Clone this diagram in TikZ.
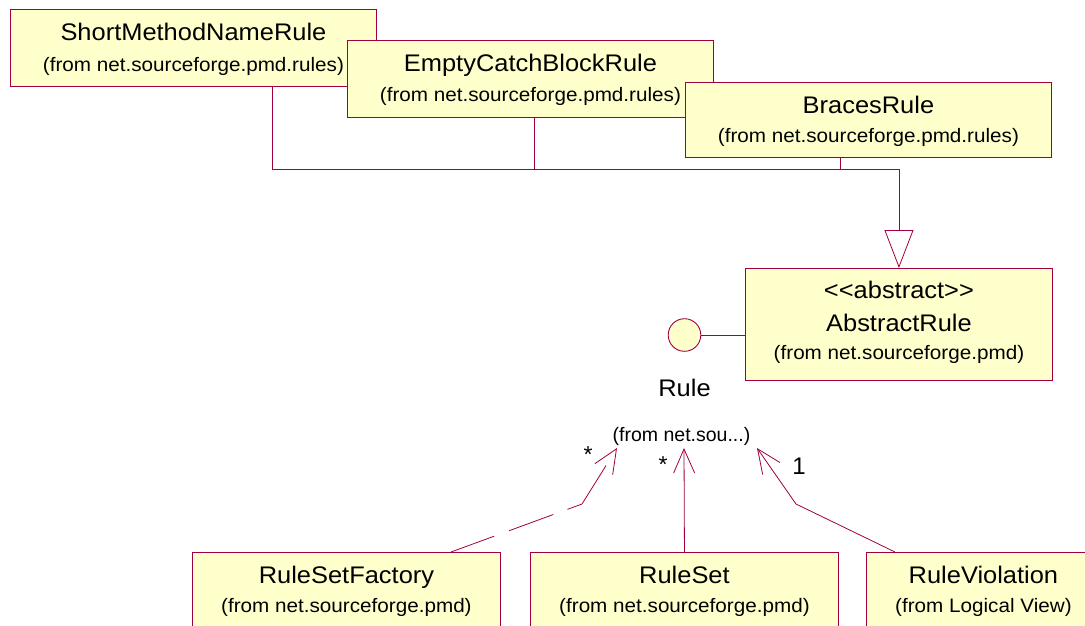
\documentclass[tikz,border=0pt]{standalone}
\usepackage{fontspec}
\setmainfont{Liberation Sans}
\newfontfamily\umlfont[FakeStretch=1.06]{Liberation Sans}
\usetikzlibrary{arrows.meta,calc}
\definecolor{umlfill}{RGB}{255,255,204}
\definecolor{umlline}{RGB}{160,0,64}
\tikzset{
  classbox/.style={draw=umlline, fill=umlfill, line width=0.9pt, rectangle, inner sep=0pt, anchor=north west},
  ttl/.style={anchor=base, inner sep=0pt, font=\umlfont\fontsize{24}{28}\selectfont},
  subttl/.style={anchor=base, inner sep=0pt, font=\umlfont\fontsize{19.5}{23}\selectfont},
  conn/.style={draw=umlline, line width=0.8pt},
  barb/.style={-{Straight Barb[length=24pt,width=21pt]}},
  mult/.style={anchor=base, inner sep=0pt, font=\fontsize{23}{26}\selectfont},
}
\begin{document}
\begin{tikzpicture}[x=1pt,y=-1pt]
\useasboundingbox (0,0) rectangle (1085,625);
\clip (0,0) rectangle (1085,625);
% top classes
\node[classbox, minimum width=366pt, minimum height=77pt] (smnr) at (10,9) {};
\node[ttl] at ($(smnr.north)+(0,31)$) {ShortMethodNameRule};
\node[subttl] at ($(smnr.north)+(0,62)$) {(from net.sourceforge.pmd.rules)};
\node[classbox, minimum width=366pt, minimum height=77pt] (ecbr) at (347,40) {};
\node[ttl] at ($(ecbr.north)+(0,31)$) {EmptyCatchBlockRule};
\node[subttl] at ($(ecbr.north)+(0,61)$) {(from net.sourceforge.pmd.rules)};
\node[classbox, minimum width=366pt, minimum height=75pt] (br) at (685,82) {};
\node[ttl] at ($(br.north)+(0,31)$) {BracesRule};
\node[subttl] at ($(br.north)+(0,60)$) {(from net.sourceforge.pmd.rules)};
% abstract rule
\node[classbox, minimum width=307pt, minimum height=112pt] (ar) at (745,268) {};
\node[ttl] at ($(ar.north)+(0,30)$) {<{}<abstract>{}>};
\node[ttl] at ($(ar.north)+(0,63)$) {AbstractRule};
\node[subttl] at ($(ar.north)+(0,91)$) {(from net.sourceforge.pmd)};
% generalization
\coordinate (bus) at (0,169);
\coordinate (smnrD) at ($(smnr.south west)+(262,0)$);
\coordinate (ecbrD) at ($(ecbr.south west)+(187,0)$);
\coordinate (brD) at ($(br.south west)+(155,0)$);
\draw[conn] (ecbrD) -- (ecbrD |- bus);
\draw[conn] (brD) -- (brD |- bus);
\draw[conn, -{Triangle[open,length=38pt,width=29pt,fill=white]}] (smnrD) |- (bus -| ar.north) -- (ar.north);
% interface
\node[circle, draw=umlline, fill=umlfill, line width=0.9pt, minimum size=32.6pt, inner sep=0pt] (rulei) at (684.5,335) {};
\draw[conn] (rulei.east) -- (rulei.east -| ar.west);
\node[ttl, font=\umlfont\fontsize{24}{28}\selectfont] (rulelbl) at (684.5,396) {Rule};
\node[subttl, font=\fontsize{19.5}{23}\selectfont] (rulefrom) at (681.5,441) {(from net.sou...)};
% bottom classes
\node[classbox, minimum width=308pt, minimum height=90pt] (rsf) at (192,552) {};
\node[ttl] at ($(rsf.north)+(0,31)$) {RuleSetFactory};
\node[subttl] at ($(rsf.north)+(0,60)$) {(from net.sourceforge.pmd)};
\node[classbox, minimum width=308pt, minimum height=90pt] (rs) at (530,552) {};
\node[ttl] at ($(rs.north)+(0,31)$) {RuleSet};
\node[subttl] at ($(rs.north)+(0,60)$) {(from net.sourceforge.pmd)};
\node[classbox, minimum width=234pt, minimum height=90pt] (rv) at (866,552) {};
\node[ttl] at ($(rv.north)+(0,31)$) {RuleViolation};
\node[subttl] at ($(rv.north)+(0,60)$) {(from Logical View)};
% associations to Rule
\coordinate (tipA) at (617,448);
\coordinate (tipB) at (684,448);
\coordinate (tipC) at (757,448);
\coordinate (bendA) at (582,504);
\coordinate (bendC) at (796,504);
\draw[conn, barb, dash pattern=on 46pt off 16pt on 47pt off 15pt on 61pt off 40pt] ($(rsf.north west)+(259,0)$) -- (bendA) -- (tipA);
\draw[conn, barb] (rs.north) -- (tipB);
\draw[conn, barb] ($(rv.north west)+(29,0)$) -- (bendC) -- (tipC);
\node[mult] at (588,462) {*};
\node[mult] at (663,472) {*};
\node[ttl, font=\fontsize{24}{28}\selectfont] at (799,474) {1};
\end{tikzpicture}
\end{document}
